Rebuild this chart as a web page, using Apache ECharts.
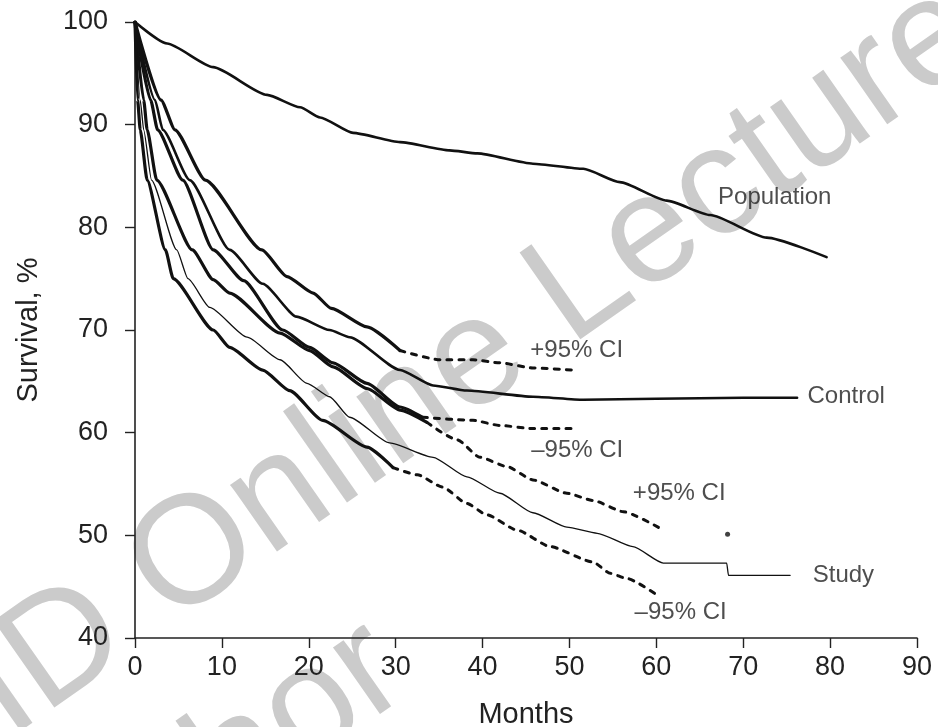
<!DOCTYPE html>
<html>
<head>
<meta charset="utf-8">
<script src="https://cdn.jsdelivr.net/npm/echarts@6/dist/echarts.min.js"></script>
<style>
  html, body { margin: 0; padding: 0; background: #fff; }
  #chart { width: 938px; height: 727px; }
</style>
</head>
<body>
<div id="chart"></div>
<script>
// Survival (%) by month: [months, survival]
const population = [[0,100],[3.7,97.9],[9,95.6],[15.2,92.9],[19,91.7],[21.3,90.7],[25.1,89.2],[30.5,88.3],[36.2,87.5],[39.4,87.2],[45.8,86.2],[51.6,85.7],[55.8,84.4],[61.2,82.6],[66.2,81.2],[72.7,79.0],[79.6,77.1]];

const controlUpper = [[0,100],[3.0,92.4],[4.6,89.5],[8.1,84.6],[14.6,77.8],[17.5,75.2],[20.5,73.6],[22.6,72.1],[26.7,70.3],[30.5,68.0]];
const controlUpperTail = [[30.5,68.0],[35.1,67.1],[38.9,67.1],[42,66.8],[45.8,66.3],[50.4,66.1]];

const control = [[0,100],[2.3,92.4],[3.2,89.5],[6.3,84.6],[10.9,77.8],[14.7,74.5],[18.6,71.3],[22.4,70.0],[24.7,69.3],[30.5,66.1],[34.3,64.6],[38.2,64.1],[45.8,63.5],[51.6,63.2],[60,63.3],[70,63.4],[76.2,63.4]];

const controlLower = [[0,100],[1.8,92.4],[2.6,89.5],[5.5,84.6],[9.0,77.8],[12.5,74.8],[17.0,70.0],[20.1,68.3],[22.8,66.8],[26.7,64.8],[30.5,62.5],[33.1,61.5]];
const controlLowerTail = [[33.1,61.5],[38.9,61.2],[42,60.7],[45.8,60.4],[50.4,60.4]];

const studyUpper = [[0,100],[1.0,92.4],[1.4,89.5],[2.5,84.6],[6.6,77.8],[9.0,74.9],[10.9,73.6],[16.7,69.7],[20.1,68.0],[22.8,66.4],[26.7,64.3],[30.5,62.2],[33.6,61.0]];
const studyUpperTail = [[33.6,61.0],[37.1,59.3],[39.7,57.6],[42.8,56.7],[45.8,55.4],[49.7,54.1],[52.7,53.4],[56.2,52.3],[60.4,50.7]];
const studyUpperLast = [[68.2,50.1]];

const study = [[0,100],[0.6,92.4],[1.0,89.5],[1.9,84.6],[4.8,77.8],[6.1,75.0],[8.6,72.2],[12.9,69.3],[16.7,67.1],[19.8,64.8],[22.4,63.5],[24.7,61.5],[29.3,59.0],[34.3,57.6],[38.2,55.7],[42,54.1],[45.8,52.2],[49.7,50.8],[53.2,50.2],[57.3,48.9],[60.8,47.3],[68.1,47.3],[68.3,46.1],[75.4,46.1]];

const studyLower = [[0,100],[0.3,92.4],[0.6,89.5],[1.4,84.6],[3.5,77.8],[4.4,75.0],[9.0,70.0],[10.9,68.3],[14.7,66.1],[17.8,64.1],[21.6,61.2],[26.7,58.6],[29.7,56.6]];
const studyLowerTail = [[29.7,56.6],[32.5,55.9],[35.4,54.7],[38.2,53.1],[40.5,52.0],[44,50.5],[47.8,48.9],[52.7,47.4],[54.7,46.3],[56.6,45.8],[60.4,44.0]];

// Curve captions, anchored at their left edge in data units
const captionNames = ['Population', '+95% CI', 'Control', '–95% CI', '+95% CI', 'Study', '–95% CI'];
const captionAnchors = [[67.1,82.9],[45.5,68.0],[77.4,63.5],[45.6,58.3],[57.3,54.1],[78.0,46.1],[57.5,42.5]];

const FONT = "'Liberation Sans', Arial, Helvetica, sans-serif";
const INK = '#111';

function line(data, width, dashed) {
  return {
    type: 'line', data: data, symbol: 'none', silent: true,
    smooth: 0.2, smoothMonotone: 'x',
    lineStyle: { color: INK, width: width, type: dashed ? [5, 7] : 'solid', cap: 'round', join: 'round' },
    z: 3
  };
}

const chart = echarts.init(document.getElementById('chart'), null, { renderer: 'canvas' });

chart.setOption({
  animation: false,
  backgroundColor: '#fff',
  grid: { left: 135, right: 21, top: 22, bottom: 89, containLabel: false, outerBoundsMode: 'none' },
  xAxis: {
    type: 'value', min: 0, max: 90, interval: 10,
    name: 'Months', nameLocation: 'middle', nameGap: 62,
    nameTextStyle: { fontFamily: FONT, fontSize: 29, color: '#222' },
    axisLine: { lineStyle: { color: '#222', width: 1.6 } },
    axisTick: { inside: false, length: 10, lineStyle: { color: '#222', width: 1.4 } },
    axisLabel: { fontFamily: FONT, fontSize: 27, color: '#222', margin: 16 },
    splitLine: { show: false }
  },
  yAxis: {
    type: 'value', min: 40, max: 100, interval: 10,
    name: 'Survival, %', nameLocation: 'middle', nameGap: 92,
    nameTextStyle: { fontFamily: FONT, fontSize: 29, color: '#222' },
    axisLine: { show: true, lineStyle: { color: '#222', width: 1.6 } },
    axisTick: { show: true, inside: false, length: 10, lineStyle: { color: '#222', width: 1.4 } },
    axisLabel: { fontFamily: FONT, fontSize: 27, color: '#222', margin: 27 },
    splitLine: { show: false }
  },
  graphic: [
    {
      type: 'text', x: 458, y: 373, rotation: 35 * Math.PI / 180, z: -10, silent: true,
      style: { text: 'IID Online Lecture', fill: '#cbcbcb', font: "154px " + FONT, align: 'center', verticalAlign: 'middle' }
    },
    {
      type: 'text', x: 203, y: 786, rotation: 35 * Math.PI / 180, z: -10, silent: true,
      style: { text: 'Author', fill: '#cbcbcb', font: "154px " + FONT, align: 'center', verticalAlign: 'middle' }
    }
  ],
  series: [
    line(population, 2.6),
    line(controlUpper, 3.2), line(controlUpperTail, 3, true),
    line(control, 2.6),
    line(controlLower, 3.2), line(controlLowerTail, 3, true),
    line(studyUpper, 3.2), line(studyUpperTail, 3, true),
    { type: 'scatter', data: studyUpperLast, symbol: 'circle', symbolSize: 5, itemStyle: { color: INK }, silent: true, z: 3 },
    line(study, 1.3),
    line(studyLower, 3.2), line(studyLowerTail, 3, true),
    {
      type: 'scatter', silent: true, symbolSize: 0, z: 4,
      data: captionAnchors.map((p, i) => ({ value: p, name: captionNames[i] })),
      label: { show: true, position: 'right', distance: 0, formatter: '{b}', fontFamily: FONT, fontSize: 24, color: '#222' }
    }
  ]
});
</script>
</body>
</html>
